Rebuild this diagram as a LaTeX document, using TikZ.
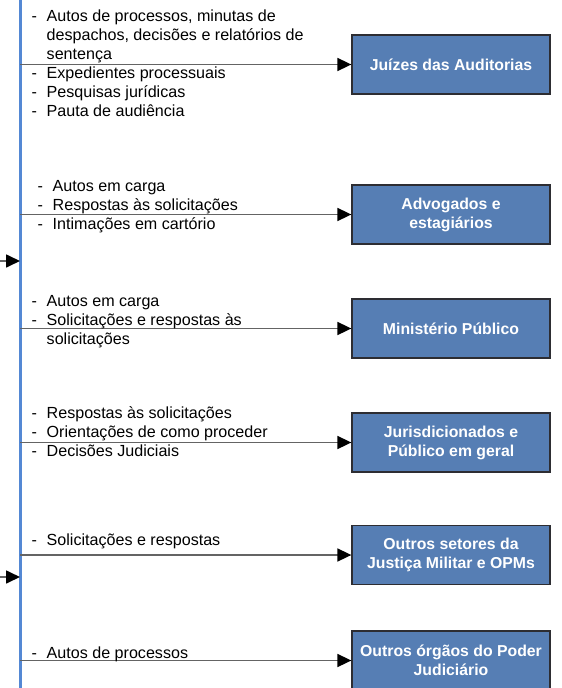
\documentclass[tikz,border=0pt]{standalone}
\usepackage{fontspec}
\setmainfont{Liberation Sans}
\usetikzlibrary{arrows.meta}
\definecolor{vline}{RGB}{84,136,212}
\definecolor{boxfill}{RGB}{86,126,180}
\definecolor{boxedge}{RGB}{45,45,50}
\definecolor{conncol}{RGB}{100,100,100}
\tikzset{
  blueline/.style={draw=vline,line width=3pt},
  actor/.style={draw=boxedge,line width=1.3pt,fill=boxfill,text=white,
    font=\fontsize{15.8}{19}\selectfont\bfseries,align=center,
    minimum width=198pt,minimum height=59pt,inner sep=2pt},
  conn/.style={draw=conncol,line width=1.7pt,
    -{Triangle[length=14pt,width=13pt,color=black]}},
  items/.style={anchor=base west,inner sep=0pt,align=left,
    font=\fontsize{16.1}{19}\selectfont}
}
\newcommand{\itm}{\makebox[15pt][l]{-}}
\newcommand{\cnt}{\hspace*{15pt}}
\begin{document}
\begin{tikzpicture}[x=1pt,y=-1pt]
\useasboundingbox (0,0) rectangle (562,688);
% vertical line
\coordinate (vtop) at (20,0);
\coordinate (vbot) at (20,688);
\draw[blueline] (vtop) -- (vbot);
% boxes
\node[actor] (b1) at (451,64.5) {Juízes das Auditorias};
\node[actor] (b2) at (451,214.5) {Advogados e\\estagiários};
\node[actor] (b3) at (451,328.5) {Ministério Público};
\node[actor] (b4) at (451,442.5) {Jurisdicionados e\\Público em geral};
\node[actor] (b5) at (451,555) {Outros setores da\\Justiça Militar e OPMs};
\node[actor] (b6) at (451,660.5) {Outros órgãos do Poder\\Judiciário};
% connectors
\foreach \i in {1,...,6}{
  \coordinate (s\i) at (vtop |- b\i.west);
  \draw[conn] (s\i) -- (b\i.west);
}
% incoming arrows
\coordinate (in1) at (0,261);
\coordinate (in2) at (0,577);
\draw[conn] (in1) -- (in1 -| vtop);
\draw[conn] (in2) -- (in2 -| vtop);
% text lists (anchor = baseline of last line)
\node[items] (t1) at (31.5,116) {\itm Autos de processos, minutas de\\
\cnt despachos, decisões e relatórios de\\
\cnt sentença\\
\itm Expedientes processuais\\
\itm Pesquisas jurídicas\\
\itm Pauta de audiência};
\node[items] (t2) at (37.5,229) {\itm Autos em carga\\
\itm Respostas às solicitações\\
\itm Intimações em cartório};
\node[items] (t3) at (31.5,344) {\itm Autos em carga\\
\itm Solicitações e respostas às\\
\cnt solicitações};
\node[items] (t4) at (31.5,456) {\itm Respostas às solicitações\\
\itm Orientações de como proceder\\
\itm Decisões Judiciais};
\node[items] (t5) at (31.5,545) {\itm Solicitações e respostas};
\node[items] (t6) at (31.5,658) {\itm Autos de processos};
\end{tikzpicture}
\end{document}
